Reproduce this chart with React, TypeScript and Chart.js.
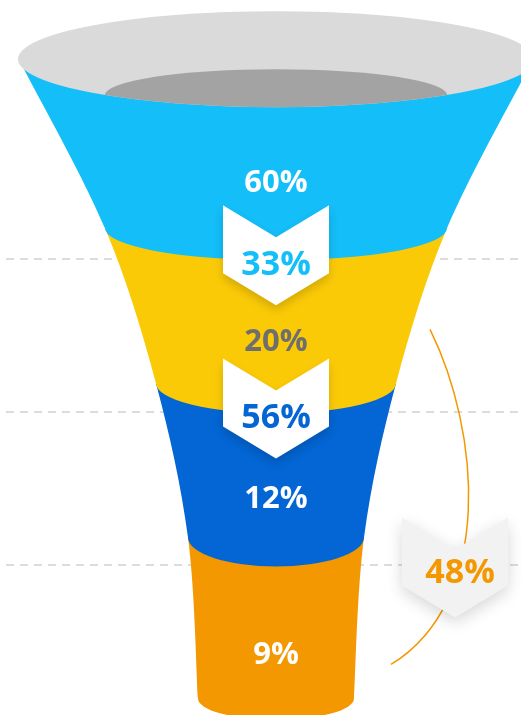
import React, { useEffect, useRef } from 'react';
import { Chart, registerables } from 'chart.js';

Chart.register(...registerables);

// ---------- data ----------
const stageLabels = ['Stage 1', 'Stage 2', 'Stage 3', 'Stage 4'];
const stageValues = [60, 20, 12, 9];
const stepConversions = [33, 56];
const overallConversion = 48;

// ---------- layout / style (scale units) ----------
const boundaryHalfWidths = [252, 171, 120, 88, 78];
const boundaryRise = [38, 32, 30, 29, 21];
const rim = { rx: 258, ry: 48, innerRx: 171, innerRy: 26, innerDy: -12 };
const stageLabelPos = [0.48, 1.52, 2.54, 3.56];
const stageColors = ['#14BEF9', '#FBCA07', '#0366D4', '#F39800'];
const stageTextColors = ['#FFFFFF', '#6E6E6E', '#FFFFFF', '#FFFFFF'];
const stepTextColors = ['#14BEF9', '#0366D4'];
const overallColor = '#F39800';
const STAGE_FONT = 'bold 31px "Open Sans"';
const STEP_FONT = 'bold 34px "Open Sans"';

const funnelPlugin = {
  id: 'funnel',
  beforeDatasetsDraw(chart: any) {
    const ctx = chart.ctx as CanvasRenderingContext2D;
    const xs = chart.scales.x;
    const ys = chart.scales.y;
    const X = (v: number) => xs.getPixelForValue(v);
    const Y = (v: number) => ys.getPixelForValue(v);
    const cx = X(0);

    ctx.save();
    // grid lines at stage boundaries
    ctx.strokeStyle = '#DCDCDC';
    ctx.lineWidth = 2;
    ctx.setLineDash([8, 6]);
    for (let k = 1; k < stageValues.length; k++) {
      const y = Math.round(Y(k)) - 1;
      ctx.beginPath();
      ctx.moveTo(6, y);
      ctx.lineTo(chart.width, y);
      ctx.stroke();
    }
    ctx.setLineDash([]);

    // boundary corner points (left side)
    const n = boundaryHalfWidths.length;
    const pts = boundaryHalfWidths.map((hw, k) => ({ x: X(-hw), y: Y(k) - boundaryRise[k] }));
    const P = (i: number) => pts[Math.max(0, Math.min(n - 1, i))];
    const ctrl = (i: number) => {
      const p0 = P(i - 1), p1 = P(i), p2 = P(i + 1), p3 = P(i + 2);
      return {
        c1: { x: p1.x + (p2.x - p0.x) / 6, y: p1.y + (p2.y - p0.y) / 6 },
        c2: { x: p2.x - (p3.x - p1.x) / 6, y: p2.y - (p3.y - p1.y) / 6 },
      };
    };
    const mirror = (x: number) => 2 * cx - x;

    for (let k = stageValues.length - 1; k >= 0; k--) {
      const a = pts[k], b = pts[k + 1];
      const { c1, c2 } = ctrl(k);
      ctx.beginPath();
      ctx.moveTo(a.x, a.y);
      ctx.lineTo(mirror(a.x), a.y);
      ctx.bezierCurveTo(mirror(c1.x), c1.y, mirror(c2.x), c2.y, mirror(b.x), b.y);
      ctx.ellipse(cx, b.y, cx - b.x, boundaryRise[k + 1], 0, 0, Math.PI, false);
      ctx.bezierCurveTo(c2.x, c2.y, c1.x, c1.y, a.x, a.y);
      ctx.closePath();
      ctx.fillStyle = stageColors[k];
      ctx.fill();
    }

    // rim
    const rimCy = Y(0) - rim.ry;
    ctx.beginPath();
    ctx.ellipse(cx, rimCy, rim.rx, rim.ry, 0, 0, Math.PI * 2);
    ctx.fillStyle = '#DADADA';
    ctx.fill();
    ctx.save();
    ctx.clip();
    ctx.beginPath();
    ctx.ellipse(cx, Y(0) + rim.innerDy, rim.innerRx, rim.innerRy, 0, 0, Math.PI * 2);
    ctx.fillStyle = '#A3A3A3';
    ctx.fill();
    ctx.restore();

    // stage labels
    ctx.textAlign = 'center';
    ctx.textBaseline = 'alphabetic';
    stageValues.forEach((v, k) => {
      ctx.font = STAGE_FONT;
      ctx.fillStyle = stageTextColors[k];
      ctx.fillText(v + '%', cx, Y(stageLabelPos[k]) + 11.5);
    });

    const chevron = (x: number, y: number, fill: string, blur: number) => {
      ctx.save();
      ctx.shadowColor = 'rgba(0,0,0,0.16)';
      ctx.shadowBlur = blur;
      ctx.shadowOffsetY = 5;
      ctx.beginPath();
      ctx.moveTo(x - 53, y - 50);
      ctx.lineTo(x, y - 18);
      ctx.lineTo(x + 53, y - 50);
      ctx.lineTo(x + 53, y + 18);
      ctx.lineTo(x, y + 50);
      ctx.lineTo(x - 53, y + 18);
      ctx.closePath();
      ctx.fillStyle = fill;
      ctx.fill();
      ctx.restore();
    };

    // step conversions
    stepConversions.forEach((v, i) => {
      const b = i + 1;
      chevron(cx, Y(b) - 5, '#FFFFFF', 10);
      ctx.font = STEP_FONT;
      ctx.fillStyle = stepTextColors[i];
      ctx.fillText(v + '%', cx, Y(b) + 2 + 12.5);
    });

    // overall conversion arc
    ctx.beginPath();
    ctx.strokeStyle = overallColor;
    ctx.lineWidth = 1.5;
    ctx.moveTo(X(154), Y(1.451));
    ctx.bezierCurveTo(X(204), Y(2.111), X(219), Y(3.222), X(115), Y(3.64));
    ctx.stroke();

    const ox = X(179);
    chevron(ox, Y(3) + 1, '#F2F2F2', 16);
    ctx.font = STEP_FONT;
    ctx.fillStyle = overallColor;
    ctx.fillText(overallConversion + '%', ox + 5, Y(3) + 4 + 12.5);

    ctx.restore();
  },
};

export default function App() {
  const ref = useRef<HTMLCanvasElement>(null);
  useEffect(() => {
    document.body.style.margin = '0';
    const chart = new Chart(ref.current!, {
      type: 'scatter',
      data: {
        labels: stageLabels,
        datasets: [
          {
            label: 'Funnel',
            data: stageValues.map((v, k) => ({ x: 0, y: stageLabelPos[k] })),
            pointRadius: 0,
            showLine: false,
          },
        ],
      },
      options: {
        responsive: false,
        animation: false,
        layout: { padding: 0 },
        plugins: { legend: { display: false }, tooltip: { enabled: false } },
        events: [],
        scales: {
          x: { type: 'linear', display: false, min: -276, max: 245 },
          y: { type: 'linear', display: false, reverse: true, min: -0.7, max: 3.97 },
        },
      },
      plugins: [funnelPlugin],
    });
    return () => chart.destroy();
  }, []);
  return <canvas ref={ref} width={521} height={715} style={{ display: 'block' }} />;
}
